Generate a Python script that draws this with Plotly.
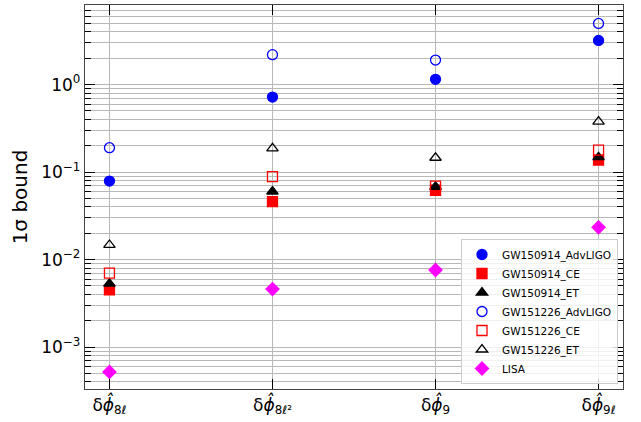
import plotly.graph_objects as go

categories = ["δ<i>ϕ̂</i><sub>8ℓ</sub>", "δ<i>ϕ̂</i><sub>8ℓ²</sub>", "δ<i>ϕ̂</i><sub>9</sub>", "δ<i>ϕ̂</i><sub>9ℓ</sub>"]
x_pos = [0, 1, 2, 3]

gw150914_advligo = [0.079, 0.72, 1.15, 3.2]
gw150914_ce = [0.0045, 0.046, 0.062, 0.137]
gw150914_et = [0.0053, 0.060, 0.068, 0.148]
gw151226_advligo = [0.19, 2.2, 1.91, 5.0]
gw151226_ce = [0.0070, 0.089, 0.069, 0.178]
gw151226_et = [0.0147, 0.187, 0.146, 0.377]
lisa = [0.00052, 0.0046, 0.0076, 0.0234]

series = [
    ("GW150914_AdvLIGO", gw150914_advligo, "circle", "blue", 10),
    ("GW150914_CE", gw150914_ce, "square", "red", 10),
    ("GW150914_ET", gw150914_et, "triangle-up", "black", 10),
    ("GW151226_AdvLIGO", gw151226_advligo, "circle-open", "blue", 10),
    ("GW151226_CE", gw151226_ce, "square-open", "red", 10),
    ("GW151226_ET", gw151226_et, "triangle-up-open", "black", 10),
    ("LISA", lisa, "diamond", "magenta", 10),
]

y_tickvals = [1e-3, 1e-2, 1e-1, 1]
y_ticktext = ["10<sup>−3</sup>", "10<sup>−2</sup>", "10<sup>−1</sup>", "10<sup>0</sup>"]
minor_vals = [k * 10 ** e for e in range(-4, 1) for k in range(2, 10)]

fig = go.Figure()
for name, vals, sym, col, sz in series:
    fig.add_trace(go.Scatter(
        x=x_pos, y=vals, mode="markers", name=name,
        marker=dict(symbol=sym, color=col, size=sz, line=dict(color=col, width=1.3)),
    ))

font = "DejaVu Sans"
fig.update_layout(
    width=641, height=422,
    margin=dict(l=85, r=18, t=5, b=33),
    plot_bgcolor="white", paper_bgcolor="white",
    font=dict(family=font, color="black", size=16),
    showlegend=True,
    legend=dict(
        x=0.9907, y=0.013, xanchor="right", yanchor="bottom",
        bgcolor="rgba(255,255,255,0.8)", bordercolor="#cccccc", borderwidth=1,
        font=dict(family=font, size=10.5, color="black"),
        tracegroupgap=0,
    ),
)
fig.update_xaxes(
    range=[-0.15, 3.15], tickmode="array", tickvals=x_pos, ticktext=categories,
    ticks="inside", ticklen=10, tickwidth=1.3, tickcolor="black",
    showgrid=True, gridcolor="#b8b8b8", gridwidth=1, zeroline=False,
    showline=True, linecolor="#444444", linewidth=1.3, mirror="allticks",
    tickfont=dict(family=font, size=17), automargin=False,
)
fig.update_yaxes(
    type="log", range=[-3.479, 0.910], tickmode="array",
    tickvals=y_tickvals, ticktext=y_ticktext,
    ticks="inside", ticklen=10, tickwidth=1.3, tickcolor="black",
    showgrid=True, gridcolor="#b8b8b8", gridwidth=1, zeroline=False,
    showline=True, linecolor="#444444", linewidth=1.3, mirror="allticks",
    tickfont=dict(family=font, size=17), automargin=False,
    minor=dict(tickvals=minor_vals, ticks="inside", ticklen=6, tickwidth=1,
               tickcolor="black", showgrid=True, gridcolor="#b8b8b8", gridwidth=1),
    title=dict(text="1σ bound", font=dict(family=font, size=20), standoff=8),
)

fig.write_html("out.html", config={"displayModeBar": False},
               post_script="document.body.style.margin='0';")
